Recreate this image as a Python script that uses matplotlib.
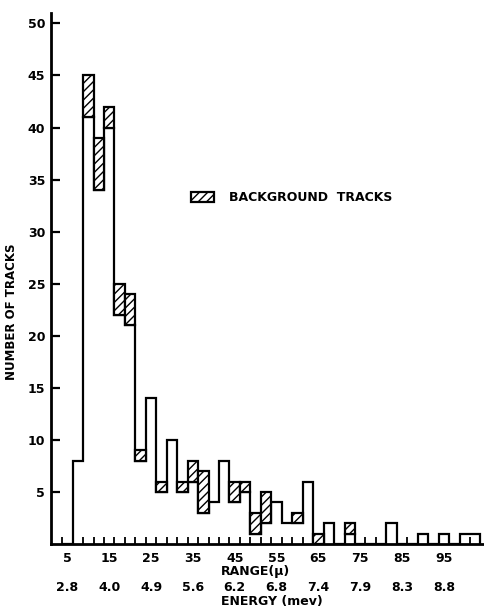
import numpy as np
import matplotlib.pyplot as plt
from matplotlib.patches import Patch

# range bins are 2.5 micron wide, first bin centred on 5
bin_edges = np.arange(3.75, 106.0, 2.5)

# white part of each bin (total minus background)
signal = [0, 8, 41, 34, 40, 22, 21, 8, 14, 5,
          10, 5, 6, 3, 4, 8, 4, 5, 1, 2,
          4, 2, 2, 6, 0, 2, 0, 1, 0, 0,
          0, 2, 0, 0, 1, 0, 1, 0, 1, 1]
# hatched background tracks stacked on top
background = [0, 0, 4, 5, 2, 3, 3, 1, 0, 1,
              0, 1, 2, 4, 0, 0, 2, 1, 2, 3,
              0, 0, 1, 0, 1, 0, 0, 1, 0, 0,
              0, 0, 0, 0, 0, 0, 0, 0, 0, 0]

range_ticks = [5, 15, 25, 35, 45, 55, 65, 75, 85, 95]
energy_labels = ["2.8", "4.0", "4.9", "5.6", "6.2", "6.8", "7.4", "7.9", "8.3", "8.8"]
y_ticks = [5, 10, 15, 20, 25, 30, 35, 40, 45, 50]


def main():
    plt.rcParams["font.family"] = "DejaVu Sans"
    plt.rcParams["font.weight"] = "bold"
    plt.rcParams["hatch.linewidth"] = 1.0

    fig = plt.figure(figsize=(4.84, 6.10), dpi=100)
    ax = fig.add_axes([50.7 / 484, 66 / 610, (484 - 50.7) / 484, 531 / 610])

    sig = np.array(signal)
    bg = np.array(background)
    centers = (bin_edges[:-1] + bin_edges[1:]) / 2

    ax.stairs(sig, bin_edges, baseline=0, color="black", linewidth=1.6)

    m = bg > 0
    ax.bar(centers[m], bg[m], bottom=sig[m], width=2.5,
           facecolor="white", edgecolor="black", linewidth=1.6,
           hatch="////")

    ax.set_xlim(1, 104.6)
    ax.set_ylim(0, 51)

    for s in ("top", "right"):
        ax.spines[s].set_visible(False)
    for s in ("left", "bottom"):
        ax.spines[s].set_linewidth(2)

    ax.set_yticks(y_ticks)
    ax.tick_params(axis="y", direction="in", length=6.5, width=1.6,
                   labelsize=9, pad=4)
    ax.set_xticks(range_ticks)
    ax.set_xticks(bin_edges, minor=True)
    ax.tick_params(axis="x", which="major", length=0, labelsize=9, pad=6)
    ax.tick_params(axis="x", which="minor", direction="in", length=5,
                   width=1.3)

    for x, lab in zip(range_ticks, energy_labels):
        ax.annotate(lab, xy=(x, 0), xycoords=("data", "axes fraction"),
                    xytext=(0, -31.5), textcoords="offset points",
                    ha="center", va="center", fontsize=9,
                    fontweight="bold")

    ax.annotate("RANGE(\u03bc)", xy=(41.7, 0), xycoords=("data", "axes fraction"),
                xytext=(0, -20), textcoords="offset points",
                ha="left", va="center", fontsize=9, fontweight="bold")
    ax.annotate("ENERGY (mev)", xy=(41.7, 0), xycoords=("data", "axes fraction"),
                xytext=(0, -41.5), textcoords="offset points",
                ha="left", va="center", fontsize=9, fontweight="bold")

    ax.set_ylabel("NUMBER OF TRACKS", fontsize=8.5, fontweight="bold")
    ax.yaxis.set_label_coords(-0.075, 0.437)

    handle = Patch(facecolor="white", edgecolor="black", linewidth=1.6,
                   hatch="////")
    ax.legend([handle], ["BACKGROUND  TRACKS"], loc="center left",
              bbox_to_anchor=(0.31, 0.652), frameon=False, borderpad=0,
              handlelength=1.85, handleheight=0.85, handletextpad=1.2,
              prop={"size": 9, "weight": "bold"})

    fig.savefig("out.png", dpi=100)


if __name__ == "__main__":
    main()
